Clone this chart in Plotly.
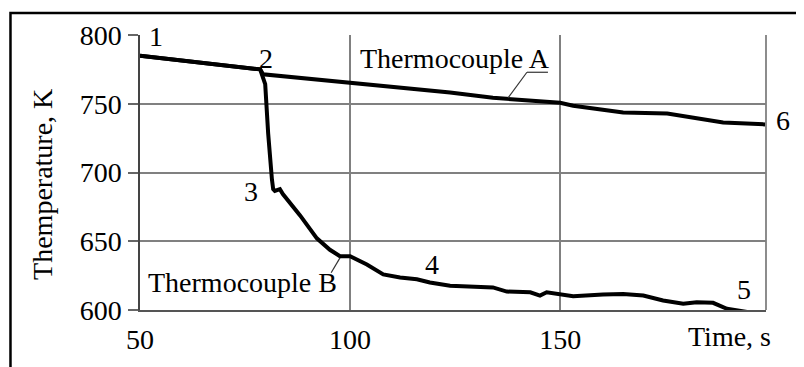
import plotly.graph_objects as go

# ---- data ----
time_A = [50, 61.9, 71.4, 78.6, 79.3, 100, 114.3, 123.8, 134, 150, 153.1, 165, 175.5, 188.8, 198.8]
temp_A = [785, 780.7, 777.1, 775, 771.4, 765.2, 760.7, 758.1, 754.3, 750.7, 748.6, 743.6, 742.9, 736.4, 735]

time_B = [50, 61.9, 71.4, 78.6, 79.8, 80.5, 81.4, 81.7, 82.1, 83.3, 84.0, 88.1, 92.1, 95.2, 97.6,
          100, 104, 107.9, 111.9, 115.9, 119, 123.8, 134, 137.3, 142.9, 145.2, 146.8, 150, 153.1,
          160.2, 165, 169.8, 174.5, 179.3, 182.5, 186.4, 189.7, 194.5, 198.3]
temp_B = [785, 780.7, 777.1, 775, 764.3, 728.6, 695, 687.9, 686.6, 687.9, 684.3, 668.8, 652.1, 643.8, 639.1,
          639.1, 633.1, 625.9, 623.6, 622.4, 620, 617.6, 616.4, 613.4, 612.9, 610.5, 612.9, 611.6, 610,
          611.2, 611.6, 610.5, 606.9, 604.5, 605.7, 605.2, 600.9, 598.6, 597.4]

x_ticks = [50, 100, 150]
x_ticktext = ["50", "100", "150"]
y_ticks = [600, 650, 700, 750, 800]

FONT = "Liberation Serif"
FS = 28
GRID = "#808080"

fig = go.Figure()
fig.add_trace(go.Scatter(x=time_A, y=temp_A, mode="lines", line=dict(color="black", width=4),
                         name="Thermocouple A", showlegend=False))
fig.add_trace(go.Scatter(x=time_B, y=temp_B, mode="lines", line=dict(color="black", width=4),
                         name="Thermocouple B", showlegend=False))

# page body has an 8px margin, so the figure is 8px smaller and margins shifted
fig.update_layout(
    width=796, height=359,
    margin=dict(l=132, r=38, t=25, b=54),
    paper_bgcolor="white", plot_bgcolor="white",
    font=dict(family=FONT, size=FS, color="black"),
    xaxis=dict(range=[50, 199], tickvals=x_ticks, ticktext=x_ticktext, showgrid=True,
               gridcolor=GRID, gridwidth=1.5, showline=True, linecolor="#555", linewidth=1.5,
               ticks="", zeroline=False, tickfont=dict(family=FONT, size=FS, color="black"),
               ticklabelstandoff=4),
    yaxis=dict(range=[600, 800], tickvals=y_ticks, showgrid=True, gridcolor=GRID, gridwidth=1.5,
               showline=True, linecolor="#444", linewidth=1.5, ticks="outside", ticklen=10,
               tickwidth=1.5, tickcolor="#666", zeroline=False,
               tickfont=dict(family=FONT, size=FS, color="black"), ticklabelstandoff=1),
)

# right border of plot area
fig.add_shape(type="line", xref="paper", yref="paper", x0=1, x1=1, y0=0, y1=1,
              line=dict(color=GRID, width=1.8))
# outer frame
fig.add_shape(type="rect", xref="paper", yref="paper", x0=-0.2069, x1=1.08, y0=-0.25, y1=1.0804,
              line=dict(color="black", width=2.5), fillcolor="rgba(0,0,0,0)")

# leader lines
fig.add_shape(type="line", x0=142.1, y0=772.9, x1=147.1, y1=772.9, line=dict(color="#333", width=1.2))
fig.add_shape(type="line", x0=142.1, y0=772.9, x1=137.6, y1=754.3, line=dict(color="#333", width=1.2))
fig.add_shape(type="line", x0=95.5, y0=627.1, x1=97.6, y1=637.9, line=dict(color="#333", width=1.2))

ann = []
ann.append(dict(text="1", x=53.7, y=798.6, xref="x", yref="y", bgcolor="white", width=26))
ann.append(dict(text="2", x=80, y=782.9, xref="x", yref="y"))
ann.append(dict(text="3", x=76.4, y=686.4, xref="x", yref="y"))
ann.append(dict(text="4", x=119.5, y=632.9, xref="x", yref="y"))
ann.append(dict(text="5", x=193.8, y=615, xref="x", yref="y"))
ann.append(dict(text="6", x=1.0272, y=737.9, xref="paper", yref="y"))
ann.append(dict(text="Thermocouple A", x=125, y=782.9, xref="x", yref="y"))
ann.append(dict(text="Thermocouple B", x=74.4, y=620, xref="x", yref="y"))
ann.append(dict(text="Time, s", x=0.9409, y=-0.0964, xref="paper", yref="paper"))
ann.append(dict(text="Themperature, K", x=-0.1556, y=0.457, xref="paper", yref="paper",
                textangle=-90))
for a in ann:
    a["font"] = dict(family=FONT, size=FS, color="black")
    a["showarrow"] = False
    a["xanchor"] = "center"
    a["yanchor"] = "middle"
    a.setdefault("borderpad", 0)
fig.update_layout(annotations=ann)

fig.write_html("out.html")
